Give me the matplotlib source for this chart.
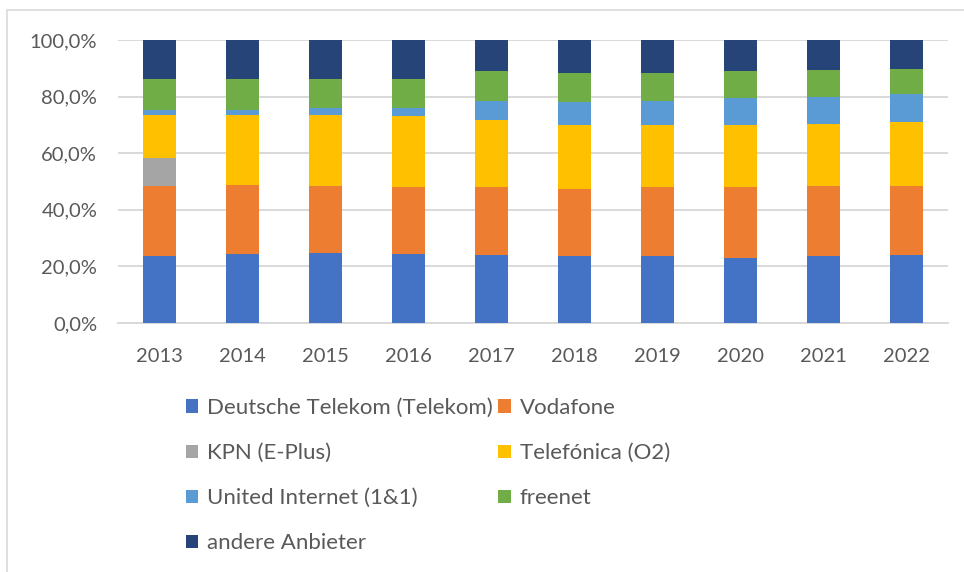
import matplotlib
matplotlib.use('Agg')
import matplotlib.pyplot as plt
from matplotlib.patches import Patch, Rectangle
from matplotlib.ticker import FuncFormatter
import numpy as np

jahre = ['2013', '2014', '2015', '2016', '2017', '2018', '2019', '2020', '2021', '2022']

anbieter = ['Deutsche Telekom (Telekom)', 'Vodafone', 'KPN (E-Plus)', 'Telefónica (O2)',
            'United Internet (1&1)', 'freenet', 'andere Anbieter']

telekom = [23.5, 24.4, 24.9, 24.4, 23.9, 23.5, 23.5, 23.0, 23.5, 23.9]
vodafone = [24.9, 24.4, 23.5, 23.5, 24.0, 23.9, 24.4, 24.9, 24.9, 24.5]
kpn = [9.9, 0, 0, 0, 0, 0, 0, 0, 0, 0]
telefonica = [15.3, 24.8, 25.2, 25.3, 23.9, 22.6, 22.1, 22.1, 22.0, 22.6]
united = [1.5, 1.5, 2.3, 2.7, 6.8, 8.2, 8.6, 9.5, 9.6, 9.9]
freenet = [11.2, 11.2, 10.4, 10.4, 10.4, 10.3, 9.9, 9.5, 9.4, 9.0]
andere = [13.7, 13.7, 13.7, 13.7, 11.0, 11.5, 11.5, 11.0, 10.6, 10.1]

farben = ['#4472C4', '#ED7D31', '#A5A5A5', '#FFC000', '#5B9BD5', '#70AD47', '#264478']

plt.rcParams['font.family'] = ['Lato', 'DejaVu Sans']
grau = '#595959'

fig = plt.figure(figsize=(9.64, 5.72), dpi=100)
ax = fig.add_axes([118/964, 1-323/572, 830/964, 283/572])

x = np.arange(len(jahre))
unten = np.zeros(len(jahre))
for werte, farbe in zip([telekom, vodafone, kpn, telefonica, united, freenet, andere], farben):
    werte = np.array(werte) / 100
    ax.bar(x, werte, 0.39, bottom=unten, color=farbe, linewidth=0, zorder=3)
    unten += werte

ax.set_xlim(-0.5, len(jahre) - 0.5)
ax.set_ylim(0, 1)
ax.set_yticks(np.arange(0, 1.01, 0.2))
ax.yaxis.set_major_formatter(FuncFormatter(lambda v, p: f'{v*100:.1f}%'.replace('.', ',')))
ax.set_xticks(x)
ax.set_xticklabels(jahre)
ax.grid(axis='y', color='#D9D9D9', linewidth=1.4, zorder=0)
for s in ['top', 'right', 'left']:
    ax.spines[s].set_visible(False)
ax.spines['bottom'].set_color('#D9D9D9')
ax.spines['bottom'].set_linewidth(1.4)
ax.tick_params(length=0, labelsize=14.5, colors=grau)
ax.tick_params(axis='y', pad=15)
ax.tick_params(axis='x', pad=18)

# Legende zeilenweise wie im Original
reihenfolge = [0, 2, 4, 6, 1, 3, 5]
handles = [Patch(facecolor=farben[i], edgecolor='none') for i in reihenfolge]
labels = [anbieter[i] for i in reihenfolge]
fig.legend(handles, labels, ncol=2, loc='upper left', bbox_to_anchor=(186/964, 1-398/572),
           frameon=False, fontsize=16, labelcolor=grau, handlelength=0.55, handleheight=0.55,
           handletextpad=0.4, columnspacing=0.25, labelspacing=1.13, borderaxespad=0, borderpad=0)

# Rahmen
fig.patches.append(Rectangle((7/964, -0.1), 1.2, 1.1 - 9.5/572, transform=fig.transFigure,
                             fill=False, edgecolor='#D9D9D9', linewidth=1.2))

fig.savefig('out.png', dpi=100)
